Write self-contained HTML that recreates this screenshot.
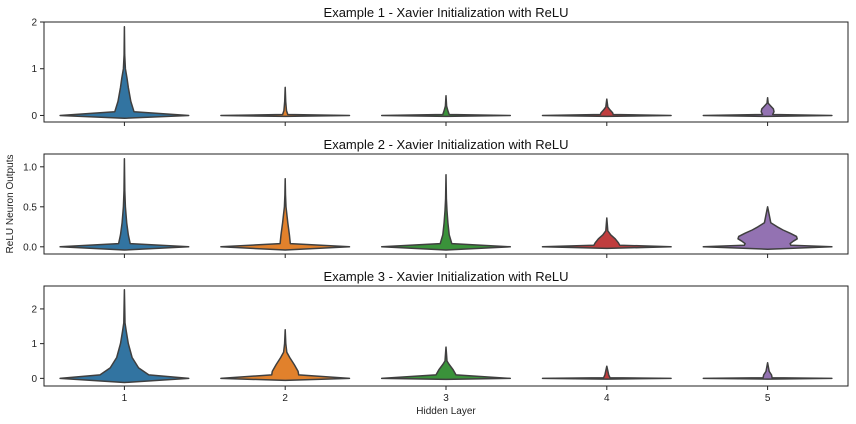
<!DOCTYPE html>
<html><head><meta charset="utf-8">
<style>body{margin:0;background:#fff}svg{display:block;font-family:"Liberation Sans","DejaVu Sans",sans-serif}</style>
</head><body>
<svg id="chart" width="856" height="424"></svg>
<script>
const categories = ["1","2","3","4","5"];
const colors = ["#3274a1","#e1812c","#3a923a","#c03d3e","#9372b2"];
const titles = ["Example 1 - Xavier Initialization with ReLU","Example 2 - Xavier Initialization with ReLU","Example 3 - Xavier Initialization with ReLU"];
const yTicks1 = [0,1,2], yTickLabels1 = ["0","1","2"];
const yTicks2 = [0,0.5,1.0], yTickLabels2 = ["0.0","0.5","1.0"];
const yTicks3 = [0,1,2], yTickLabels3 = ["0","1","2"];
// violin profiles: values (y) and relative half-widths
const p1Vals = [
 [-0.06,0,0.08,0.3,0.6,0.8,1.0,1.3,1.9],
 [-0.02,0,0.02,0.1,0.3,0.6],
 [-0.02,0,0.02,0.1,0.2,0.42],
 [-0.02,0,0.02,0.06,0.12,0.18,0.35],
 [-0.02,0,0.02,0.08,0.14,0.2,0.26,0.38]];
const p1W = [
 [0,1,0.15,0.1,0.06,0.04,0.015,0.005,0],
 [0,1,0.04,0.02,0.008,0],
 [0,1,0.05,0.03,0.01,0],
 [0,1,0.1,0.09,0.05,0.015,0],
 [0,1,0.08,0.1,0.09,0.05,0.01,0]];
const p2Vals = [
 [-0.04,0,0.04,0.15,0.3,0.5,0.7,1.1],
 [-0.04,0,0.04,0.15,0.3,0.5,0.65,0.85],
 [-0.04,0,0.04,0.15,0.3,0.45,0.6,0.9],
 [-0.02,0,0.02,0.05,0.1,0.15,0.2,0.36],
 [-0.03,0,0.02,0.04,0.07,0.1,0.13,0.17,0.21,0.25,0.3,0.5]];
const p2W = [
 [0,1,0.09,0.06,0.035,0.015,0.006,0],
 [0,1,0.08,0.065,0.04,0.012,0.004,0],
 [0,1,0.09,0.05,0.03,0.015,0.006,0],
 [0,1,0.2,0.18,0.13,0.06,0.015,0],
 [0,1,0.36,0.35,0.4,0.46,0.45,0.35,0.24,0.15,0.05,0]];
const p3Vals = [
 [-0.12,0,0.1,0.3,0.6,1.0,1.35,1.6,2.55],
 [-0.06,0,0.1,0.2,0.4,0.6,0.75,1.0,1.4],
 [-0.03,0,0.1,0.25,0.4,0.5,0.9],
 [-0.02,0,0.02,0.1,0.35],
 [-0.02,0,0.02,0.1,0.2,0.45]];
const p3W = [
 [0,1,0.38,0.22,0.12,0.06,0.03,0.01,0],
 [0,1,0.21,0.2,0.14,0.07,0.025,0.01,0],
 [0,1,0.155,0.11,0.05,0.015,0],
 [0,1,0.05,0.03,0],
 [0,1,0.07,0.06,0.025,0]];

const NS="http://www.w3.org/2000/svg";
const svg=document.getElementById('chart');
function mk(tag,attrs,parent){const e=document.createElementNS(NS,tag);for(const k in attrs)e.setAttribute(k,attrs[k]);(parent||svg).appendChild(e);return e;}
const X0=44,X1=848;
const xScale=i=>X0+(i+0.5)*(X1-X0)/categories.length;
const halfMax=0.4*(X1-X0)/categories.length;
const panels=[
 {top:22,bot:122,ymin:-0.14,ymax:2,ticks:yTicks1,labels:yTickLabels1,vals:p1Vals,w:p1W,xl:false},
 {top:154,bot:254,ymin:-0.09,ymax:1.16,ticks:yTicks2,labels:yTickLabels2,vals:p2Vals,w:p2W,xl:false},
 {top:286,bot:386,ymin:-0.22,ymax:2.66,ticks:yTicks3,labels:yTickLabels3,vals:p3Vals,w:p3W,xl:true}];
panels.forEach((p,pi)=>{
  const g=mk('g',{});
  
  
  const ys=v=>p.bot-(v-p.ymin)/(p.ymax-p.ymin)*(p.bot-p.top);
  p.vals.forEach((vals,i)=>{
    const cx=xScale(i);let right=[],left=[];
    vals.forEach((v,k)=>{const hw=p.w[i][k]*halfMax;right.push([cx+hw,ys(v)]);left.push([cx-hw,ys(v)]);});
    const pts=right.concat(left.reverse());
    const path=mk('path',{d:'M'+pts.map(q=>q[0].toFixed(1)+','+q[1].toFixed(1)).join('L')+'Z',fill:colors[i],stroke:'#3f3f3f','stroke-width':1.5,'stroke-linejoin':'round'},g);
    
    
  });
  const fr=mk('rect',{x:X0,y:p.top,width:X1-X0,height:p.bot-p.top,fill:'none',stroke:'#222','stroke-width':1},g);
  
  
  p.ticks.forEach((t,k)=>{
    const y=ys(t);
    mk('line',{x1:X0-4,x2:X0,y1:y,y2:y,stroke:'#222'},g);
    const tx=mk('text',{x:X0-7,y:y+3.5,'font-size':10,'text-anchor':'end',fill:'#222'},g);
    tx.textContent=p.labels[k];
    
    
  });
  categories.forEach((c,i)=>{
    const x=xScale(i);
    mk('line',{x1:x,x2:x,y1:p.bot,y2:p.bot+4,stroke:'#222'},g);
    if(p.xl){const tx=mk('text',{x:x,y:p.bot+15,'font-size':10,'text-anchor':'middle',fill:'#222'},g);tx.textContent=c;
      
      }
  });
  const tt=mk('text',{x:(X0+X1)/2,y:p.top-5,'font-size':13,'text-anchor':'middle',fill:'#111'},g);
  tt.textContent=titles[pi];
  
  
});
const xl=mk('text',{x:(X0+X1)/2,y:414,'font-size':10,'text-anchor':'middle',fill:'#222'});
xl.textContent='Hidden Layer';


const yl=mk('text',{x:0,y:0,'font-size':10,'text-anchor':'middle',fill:'#222',transform:'translate(13,204) rotate(-90)'});
yl.textContent='ReLU Neuron Outputs';


</script>
</body></html>
